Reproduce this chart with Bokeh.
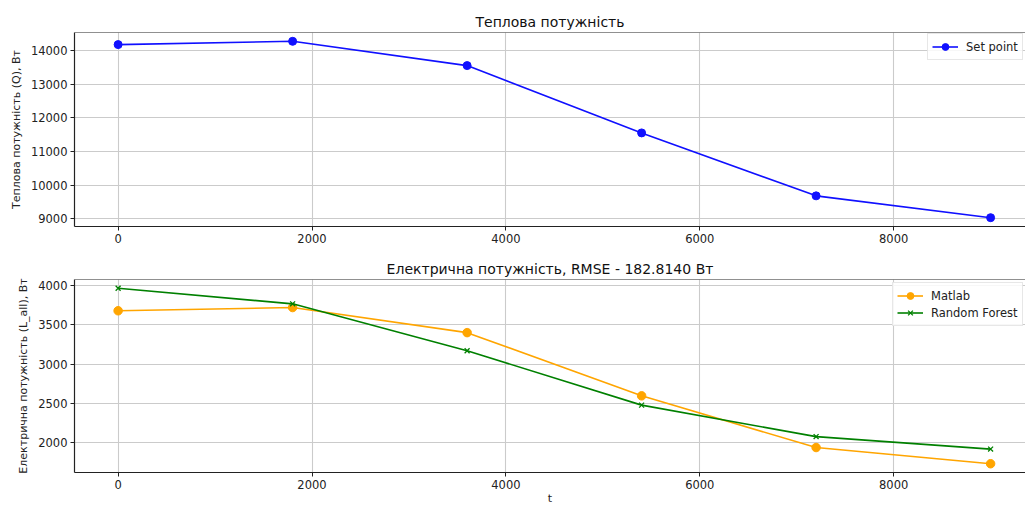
from bokeh.plotting import figure
from bokeh.layouts import column
from bokeh.models import FixedTicker, Range1d, Span
from bokeh.embed import file_html
from bokeh.resources import INLINE

# ---- data ----
t = [0, 1800, 3600, 5400, 7200, 9000]
q_set = [14185, 14283, 13560, 11555, 9680, 9030]
p_matlab = [3681, 3722, 3403, 2599, 1942, 1736]
p_rf = [3967, 3769, 3172, 2481, 2081, 1922]

x_ticks = [0, 2000, 4000, 6000, 8000]
q_ticks = [9000, 10000, 11000, 12000, 13000, 14000]
p_ticks = [2000, 2500, 3000, 3500, 4000]

title_top = "Теплова потужність"
title_bot = "Електрична потужність, RMSE - 182.8140 Вт"
ylab_top = "Теплова потужність (Q), Вт"
ylab_bot = "Електрична потужність (L_all), Вт"
xlab_bot = "t"

FONT = "DejaVu Sans"
W = 1025


def pad(vals, f=0.05):
    lo, hi = min(vals), max(vals)
    s = (hi - lo) * f
    return lo - s, hi + s


x_lo = min(t) - (max(t) - min(t)) * 0.05
x_hi = 9360  # visible part of the axis (reference is cut at the right)


def style(p, yticks, ylabel, legend_xy, xlabel=None):
    p.outline_line_color = None
    for ax in (p.xaxis[0], p.yaxis[0]):
        ax.axis_line_color = "#222222"
        ax.axis_line_width = 1.2
        ax.major_tick_line_color = "#222222"
        ax.major_tick_out = 4
        ax.major_tick_in = 0
        ax.minor_tick_line_color = None
        ax.major_label_text_font = FONT
        ax.major_label_text_font_size = "11.5px"
        ax.major_label_text_color = "#222222"
        ax.axis_label_text_font = FONT
        ax.axis_label_text_font_size = "11px"
        ax.axis_label_text_font_style = "normal"
        ax.axis_label_text_color = "#222222"
    p.xaxis[0].ticker = FixedTicker(ticks=x_ticks)
    p.yaxis[0].ticker = FixedTicker(ticks=yticks)
    p.yaxis[0].axis_label = ylabel
    p.yaxis[0].axis_label_standoff = 5
    p.yaxis[0].major_label_standoff = 3
    p.xaxis[0].major_label_standoff = 3
    if xlabel:
        p.xaxis[0].axis_label = xlabel
        p.xaxis[0].axis_label_standoff = 0
    p.grid.grid_line_color = "#cbcbcb"
    p.grid.grid_line_width = 1.1
    p.title.text_font = FONT
    p.title.text_font_size = "14px"
    p.title.text_font_style = "normal"
    p.title.text_color = "#111111"
    p.title.align = "center"
    p.title.standoff = 5
    p.add_layout(Span(location=p.y_range.end, dimension="width",
                      line_color="#222222", line_width=1.2))
    p.legend.location = legend_xy
    p.legend.margin = 0
    p.legend.padding = 4
    p.legend.spacing = 0
    p.legend.label_standoff = 8
    p.legend.label_text_font = FONT
    p.legend.label_text_font_size = "11.5px"
    p.legend.label_text_color = "#222222"
    p.legend.glyph_width = 26
    p.legend.label_height = 17
    p.legend.glyph_height = 17
    p.legend.border_line_color = "#d0d0d0"
    p.legend.background_fill_alpha = 0.85


# ---- top plot ----
ylo, yhi = pad(q_set)
p1 = figure(width=W, height=252, output_backend="svg", toolbar_location=None,
            x_range=Range1d(x_lo, x_hi), y_range=Range1d(ylo, yhi),
            title=title_top, min_border_left=74, min_border_right=0,
            min_border_top=32, min_border_bottom=26)
p1.line(t, q_set, line_color="#1010ff", line_width=1.6, legend_label="Set point")
p1.scatter(t, q_set, marker="circle", size=8, fill_color="#1010ff",
           line_color="#1010ff", legend_label="Set point")
style(p1, q_ticks, ylab_top, (853, 166))

# ---- bottom plot ----
ylo2, yhi2 = pad(p_matlab + p_rf)
p2 = figure(width=W, height=255, output_backend="svg", toolbar_location=None,
            x_range=Range1d(x_lo, x_hi), y_range=Range1d(ylo2, yhi2),
            title=title_bot, min_border_left=74, min_border_right=0,
            min_border_top=27, min_border_bottom=35)
p2.line(t, p_matlab, line_color="orange", line_width=1.6, legend_label="Matlab")
p2.scatter(t, p_matlab, marker="circle", size=8.5, fill_color="orange",
           line_color="orange", legend_label="Matlab")
p2.line(t, p_rf, line_color="green", line_width=1.6, legend_label="Random Forest")
p2.scatter(t, p_rf, marker="x", size=7, line_color="green", line_width=1.3,
           legend_label="Random Forest")
style(p2, p_ticks, ylab_bot, (818, 146), xlab_bot)

layout = column(p1, p2, spacing=0)
open("out.html", "w").write(file_html(layout, INLINE))
